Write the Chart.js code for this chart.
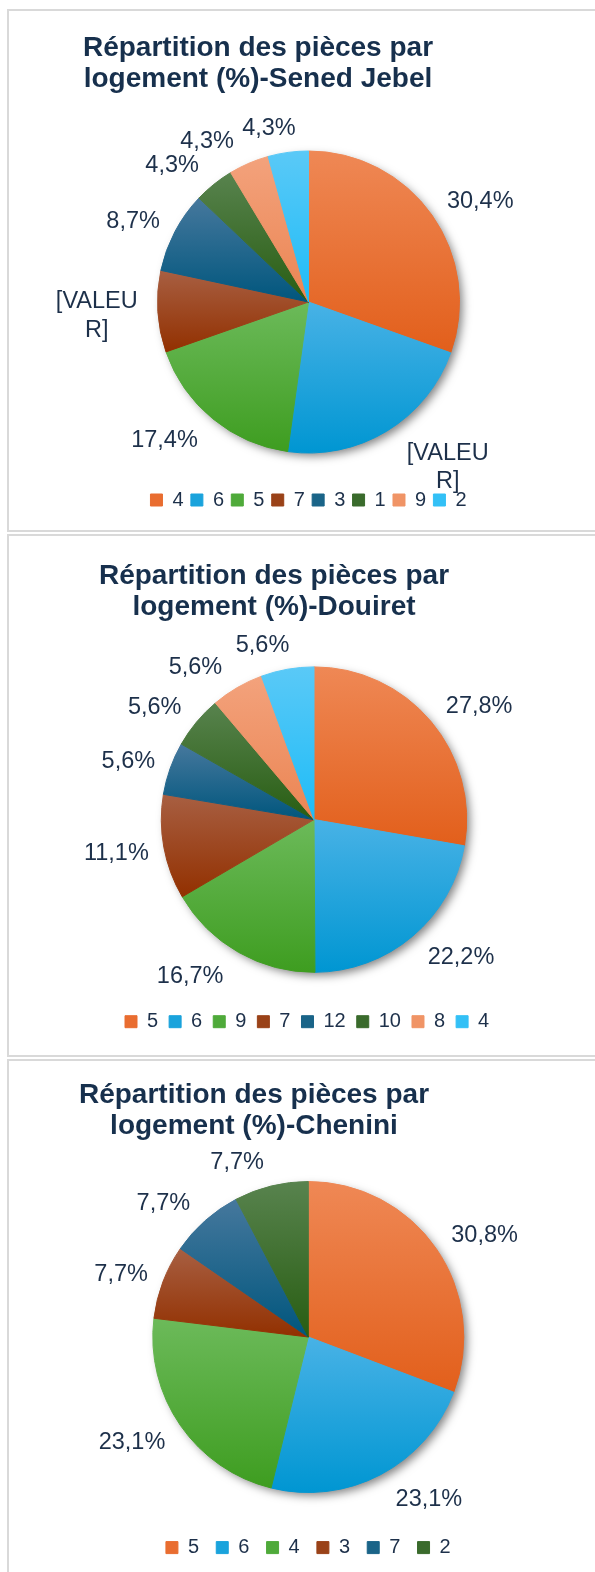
<!DOCTYPE html>
<html lang="fr">
<head>
<meta charset="utf-8">
<title>Répartition des pièces par logement</title>
<script src="https://cdn.jsdelivr.net/npm/chart.js@4.4.1/dist/chart.umd.min.js"></script>
<style>
  html, body { margin: 0; padding: 0; background: #fff; overflow: hidden; }
  body { width: 595px; height: 1572px; position: relative; font-family: 'Liberation Sans', Arial, sans-serif; }
  .panel { position: absolute; left: 7px; width: 620px; border: 2px solid #d9d9d9; box-sizing: border-box; }
  canvas { position: absolute; left: 0; }
  .chart-title {
    position: absolute; width: 500px; text-align: center; white-space: nowrap;
    font-weight: bold; font-size: 28px; line-height: 30.5px; color: #17304d;
  }
</style>
</head>
<body>

<div class="panel" style="top:9px;height:523px"></div>
<div class="panel" style="top:534px;height:523px"></div>
<div class="panel" style="top:1059px;height:530px"></div>

<canvas id="chartSened" width="595" height="523" style="top:9px"></canvas>
<canvas id="chartDouiret" width="595" height="523" style="top:534px"></canvas>
<canvas id="chartChenini" width="595" height="523" style="top:1059px"></canvas>

<div class="chart-title" style="left:8px;top:32px">Répartition des pièces par<br>logement (%)-Sened Jebel</div>
<div class="chart-title" style="left:24px;top:560px">Répartition des pièces par<br>logement (%)-Douiret</div>
<div class="chart-title" style="left:4px;top:1079px">Répartition des pièces par<br>logement (%)-Chenini</div>

<script>
// Sened Jebel
const seneCategories = ['4', '6', '5', '7', '3', '1', '9', '2'];
const seneValues = [30.4, 21.7, 17.4, 8.7, 8.7, 4.3, 4.3, 4.3];
const seneTexts = ['30,4%', '[VALEUR]', '17,4%', '[VALEUR]', '8,7%', '4,3%', '4,3%', '4,3%'];

// Douiret
const douiCategories = ['5', '6', '9', '7', '12', '10', '8', '4'];
const douiValues = [27.8, 22.2, 16.7, 11.1, 5.6, 5.6, 5.6, 5.6];
const douiTexts = ['27,8%', '22,2%', '16,7%', '11,1%', '5,6%', '5,6%', '5,6%', '5,6%'];

// Chenini
const chenCategories = ['5', '6', '4', '3', '7', '2'];
const chenValues = [30.8, 23.1, 23.1, 7.7, 7.7, 7.7];
const chenTexts = ['30,8%', '23,1%', '23,1%', '7,7%', '7,7%', '7,7%'];

// slice colours (top of gradient / bottom of gradient / flat for legend)
const sliceLight = ['#ef8855', '#48b2e6', '#6cba5a', '#a85f42', '#46789d', '#58834e', '#f3a27c', '#5ac9f7'];
const sliceDark  = ['#e25f1b', '#0096d2', '#3e9d20', '#923000', '#00567d', '#285d12', '#eb8553', '#1ebcf7'];
const sliceFlat  = ['#e96d30', '#1aa3dc', '#4faa3a', '#9a4218', '#1a6488', '#3a6b2c', '#f09466', '#33c0f6'];

const TEXT_COLOR = '#1d304a';
const FONT = "'Liberation Sans', Arial, sans-serif";
const LABEL_SIZE = 23.5;
const LABEL_LINE = 28.5;
const LABEL_WRAP = 92;

Chart.defaults.font.family = FONT;

function wrapLabel(ctx, text, maxW) {
  if (ctx.measureText(text).width <= maxW) return [text];
  const lines = [];
  let cur = '';
  for (const ch of text) {
    if (cur && ctx.measureText(cur + ch).width > maxW) {
      lines.push(cur);
      cur = ch;
    } else {
      cur += ch;
    }
  }
  if (cur) lines.push(cur);
  return lines;
}

// shadow + per-slice vertical gradient, then labels outside each slice
const pieDecor = {
  id: 'pieDecor',
  beforeDatasetsDraw(chart) {
    const ctx = chart.ctx;
    const arcs = chart.getDatasetMeta(0).data;
    if (!arcs.length) return;
    const a0 = arcs[0];

    ctx.save();
    ctx.shadowColor = 'rgba(0,0,0,0.5)';
    ctx.shadowBlur = 10;
    ctx.shadowOffsetX = 4;
    ctx.shadowOffsetY = 4;
    ctx.beginPath();
    ctx.arc(a0.x, a0.y, a0.outerRadius - 1, 0, Math.PI * 2);
    ctx.fillStyle = '#9a9a9a';
    ctx.fill();
    ctx.restore();

    arcs.forEach((arc, i) => {
      const r = arc.outerRadius;
      const ys = [arc.y, arc.y + Math.sin(arc.startAngle) * r, arc.y + Math.sin(arc.endAngle) * r];
      [-Math.PI / 2, Math.PI / 2, 3 * Math.PI / 2].forEach(t => {
        if (t > arc.startAngle && t < arc.endAngle) ys.push(arc.y + Math.sin(t) * r);
      });
      const g = ctx.createLinearGradient(0, Math.min(...ys), 0, Math.max(...ys));
      g.addColorStop(0, sliceLight[i]);
      g.addColorStop(1, sliceDark[i]);
      arc.options = Object.assign({}, arc.options, { backgroundColor: g, borderColor: g });
    });
  },
  afterDatasetsDraw(chart, args, opts) {
    const ctx = chart.ctx;
    const arcs = chart.getDatasetMeta(0).data;
    ctx.save();
    ctx.font = LABEL_SIZE + 'px ' + FONT;
    ctx.fillStyle = TEXT_COLOR;
    ctx.textAlign = 'center';
    ctx.textBaseline = 'alphabetic';
    arcs.forEach((arc, i) => {
      const lines = wrapLabel(ctx, opts.texts[i], LABEL_WRAP);
      // wrapped labels keep the full wrap box width
      const w = lines.length > 1 ? LABEL_WRAP : ctx.measureText(lines[0]).width;
      const h = lines.length * LABEL_LINE - 1.5;
      const mid = (arc.startAngle + arc.endAngle) / 2;
      const ux = Math.cos(mid), uy = Math.sin(mid);
      const cx = arc.x + ux * arc.outerRadius + Math.max(-1, Math.min(1, ux * 3.4)) * (w / 2 + 15);
      const cy = arc.y + uy * arc.outerRadius + uy * (h / 2 + 12.5);
      lines.forEach((line, k) => {
        const ly = cy + (k - (lines.length - 1) / 2) * LABEL_LINE;
        ctx.fillText(line, cx, ly + 0.358 * LABEL_SIZE);
      });
    });
    ctx.restore();
  }
};

function buildPie(id, categories, values, texts, spec) {
  const H = 523, W = 595;
  const legendH = 20 + spec.legendGap + 10;
  const padBottom = H - 20 - spec.legendY;
  const chartBottom = H - padBottom - legendH;
  const padTop = 2 * spec.cy - chartBottom;
  let padLeft, padRight;
  if (spec.legendX) {
    // legend starts at legendX; chart area stays centred on the pie
    padLeft = spec.legendX - spec.legendGap;
    padRight = W + padLeft - 2 * spec.cx;
  } else {
    const shift = 2 * spec.cx - W;
    padLeft = Math.max(shift, 0);
    padRight = Math.max(-shift, 0);
  }

  new Chart(document.getElementById(id), {
    type: 'pie',
    data: {
      labels: categories,
      datasets: [{
        data: values,
        backgroundColor: sliceFlat.slice(0, values.length),
        borderColor: sliceFlat.slice(0, values.length),
        borderWidth: 1,
        radius: spec.radius
      }]
    },
    options: {
      responsive: false,
      animation: false,
      events: [],
      layout: {
        padding: { top: padTop, bottom: padBottom, left: padLeft, right: padRight }
      },
      plugins: {
        legend: {
          position: 'bottom',
          align: spec.legendX ? 'start' : 'center',
          labels: {
            boxWidth: 12,
            boxHeight: 12,
            padding: spec.legendGap,
            color: TEXT_COLOR,
            font: { size: 20 }
          }
        },
        tooltip: { enabled: false },
        pieDecor: { texts: texts }
      }
    },
    plugins: [pieDecor]
  });
}

buildPie('chartSened', seneCategories, seneValues, seneTexts,
  { cx: 308.5, cy: 293, radius: 151, legendY: 491, legendGap: 7.3 });
buildPie('chartDouiret', douiCategories, douiValues, douiTexts,
  { cx: 314, cy: 285.6, radius: 152.7, legendY: 487.7, legendGap: 11, legendX: 125 });
buildPie('chartChenini', chenCategories, chenValues, chenTexts,
  { cx: 308.3, cy: 278, radius: 155.5, legendY: 488.6, legendGap: 17.2 });
</script>
</body>
</html>
